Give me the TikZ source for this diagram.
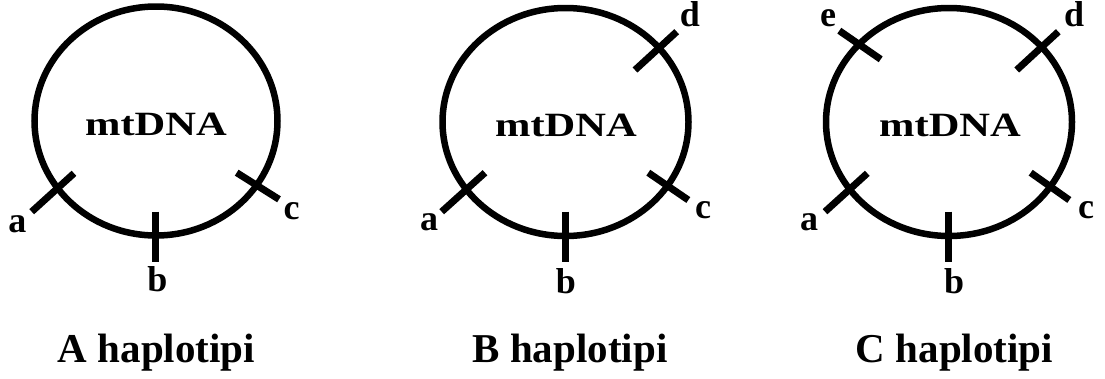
\documentclass[tikz,border=0pt]{standalone}
\usepackage{graphicx}
\usepackage{fontspec}
\setmainfont{Liberation Serif}
\begin{document}
\begin{tikzpicture}[x=1pt,y=-1pt,
  ring/.style={line width=6.5pt},
  tick/.style={line width=7pt},
  lbl/.style={font=\fontsize{36}{36}\selectfont\bfseries, anchor=base, inner sep=0pt},
  capt/.style={font=\fontsize{41}{41}\selectfont\bfseries, anchor=base, inner sep=0pt},
  mt/.style={font=\fontsize{34}{34}\selectfont\bfseries, inner sep=0pt}]
\useasboundingbox (0,0) rectangle (1105,378);
% ---- A ----
\draw[ring] (156,121) ellipse [x radius=121.5pt, y radius=114.5pt];
\node[mt] (mA) at (156,124.5) {\scalebox{1.25}[1]{mtDNA}};
\draw[tick] (31.7,211.7) -- (74,173.3);
\draw[tick] (155.7,211.7) -- (155.7,261.7);
\draw[tick] (236.7,172.7) -- (279,199.3);
\node[lbl] (Aa) at (17.5,232) {a};
\node[lbl] (Ab) at (157.5,291.7) {b};
\node[lbl] (Ac) at (291.7,219) {c};
\node[capt] (capA) at (156.5,362) {A haplotipi};
% ---- B ----
\draw[ring] (565.5,122) ellipse [x radius=123pt, y radius=114pt];
\node[mt] (mB) at (566,125) {\scalebox{1.25}[1]{mtDNA}};
\draw[tick] (441.7,211.7) -- (485,172.7);
\draw[tick] (565,211.7) -- (565,261.7);
\draw[tick] (648.3,172.7) -- (688.3,200);
\draw[tick] (635,70) -- (676.7,31.7);
\node[lbl] (Ba) at (429,230) {a};
\node[lbl] (Bb) at (566,293) {b};
\node[lbl] (Bc) at (703,218) {c};
\node[lbl] (Bd) at (690,26) {d};
\node[capt] (capB) at (570,362) {B haplotipi};
% ---- C ----
\draw[ring] (949,122) ellipse [x radius=123pt, y radius=114pt];
\node[mt] (mC) at (950,125) {\scalebox{1.25}[1]{mtDNA}};
\draw[tick] (839.3,30.7) -- (880.7,59.3);
\draw[tick] (1016.7,70) -- (1058.3,31.7);
\draw[tick] (825,211.7) -- (867.3,173.3);
\draw[tick] (948.3,211.7) -- (948.3,261.7);
\draw[tick] (1030.7,172.7) -- (1069.3,200);
\node[lbl] (Ce) at (828,26) {e};
\node[lbl] (Cd) at (1074,26) {d};
\node[lbl] (Ca) at (809,230) {a};
\node[lbl] (Cc) at (1086,218) {c};
\node[lbl] (Cb) at (954,293) {b};
\node[capt] (capC) at (954.5,362) {C haplotipi};
\end{tikzpicture}
\end{document}
